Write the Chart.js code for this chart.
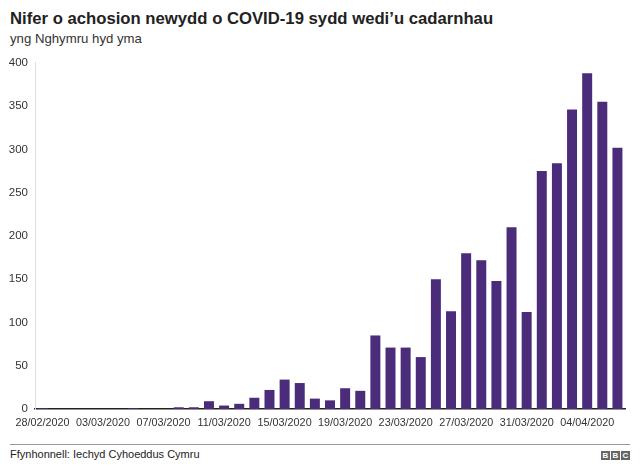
<!DOCTYPE html>
<html>
<head>
<meta charset="utf-8">
<script src="https://cdn.jsdelivr.net/npm/chart.js@4"></script>
<style>
  body { margin: 0; background: #fff; font-family: "Liberation Sans", Arial, sans-serif; }
  #wrap { position: relative; width: 640px; height: 474px; }
  #title { position: absolute; left: 10px; top: 9px; font-size: 16.7px; font-weight: bold; color: #222; }
  #subtitle { position: absolute; left: 10px; top: 31px; font-size: 13.2px; color: #333; }
  #box { position: absolute; left: 0; top: 49px; width: 640px; height: 391px; }
  #rule { position: absolute; left: 10px; top: 444px; width: 620px; height: 1px; background: #999; }
  #source { position: absolute; left: 10px; top: 448px; font-size: 11px; color: #222; }
  #bbc { position: absolute; left: 601px; top: 451px; display: flex; gap: 1px; }
  #bbc span { width: 9px; height: 9px; background: #666; color: #fff; font-size: 8px; font-weight: bold; line-height: 9px; text-align: center; }
</style>
</head>
<body>
<div id="wrap">
  <div id="title">Nifer o achosion newydd o COVID-19 sydd wedi’u cadarnhau</div>
  <div id="subtitle">yng Nghymru hyd yma</div>
  <div id="box"><canvas id="grafico"></canvas></div>
  <div id="rule"></div>
  <div id="source">Ffynhonnell: Iechyd Cyhoeddus Cymru</div>
  <div id="bbc"><span>B</span><span>B</span><span>C</span></div>
</div>
<script>
// dyddiadau 28/02/2020 - 06/04/2020
const dyddiadau = [
  "28/02/2020","29/02/2020","01/03/2020","02/03/2020","03/03/2020","04/03/2020","05/03/2020",
  "06/03/2020","07/03/2020","08/03/2020","09/03/2020","10/03/2020","11/03/2020","12/03/2020",
  "13/03/2020","14/03/2020","15/03/2020","16/03/2020","17/03/2020","18/03/2020","19/03/2020",
  "20/03/2020","21/03/2020","22/03/2020","23/03/2020","24/03/2020","25/03/2020","26/03/2020",
  "27/03/2020","28/03/2020","29/03/2020","30/03/2020","31/03/2020","01/04/2020","02/04/2020",
  "03/04/2020","04/04/2020","05/04/2020","06/04/2020"
]

const achosion = [
  1, 0, 0, 0, 0, 0, 1,
  0, 0, 2, 2, 9, 4, 6,
  13, 22, 34, 30, 12, 10, 24,
  21, 85, 71, 71, 60, 150, 113,
  180, 172, 148, 210, 112, 275, 284,
  346, 388, 355, 302
]

const yTicks = [0, 50, 100, 150, 200, 250, 300, 350, 400]

const ctx = document.getElementById("grafico")

const data = {
  labels: dyddiadau,
  datasets: [{
    data: achosion,
    backgroundColor: '#4b2c7a',
    categoryPercentage: 1,
    barPercentage: 0.66
  }]
}

const config = {
  type: 'bar',
  data: data,
  options: {
    responsive: true,
    maintainAspectRatio: false,
    animation: false,
    layout: { padding: { top: 10, right: 15, left: 0, bottom: 0 } },
    plugins: {
      legend: { display: false },
      tooltip: { enabled: false }
    },
    scales: {
      x: {
        grid: { display: false, drawTicks: false },
        border: { display: true, color: '#222', width: 1.5 },
        ticks: {
          autoSkip: false,
          maxRotation: 0,
          padding: 8,
          color: '#333',
          font: { family: 'Liberation Sans', size: 10.8 },
          callback: function(v, i) { return i % 4 === 0 ? dyddiadau[i] : null }
        },
        afterFit: function(s) { s.height = 31 }
      },
      y: {
        min: 0,
        max: 400,
        afterBuildTicks: function(s) { s.ticks = yTicks.map(v => ({ value: v })) },
        grid: { display: false, drawTicks: false },
        border: { display: true, color: '#ddd', width: 1 },
        ticks: {
          padding: 7,
          color: '#333',
          font: { family: 'Liberation Sans', size: 11.5 }
        },
        afterFit: function(s) { s.width = 35 }
      }
    }
  }
}

const grafico = new Chart(ctx, config)
</script>
</body>
</html>
